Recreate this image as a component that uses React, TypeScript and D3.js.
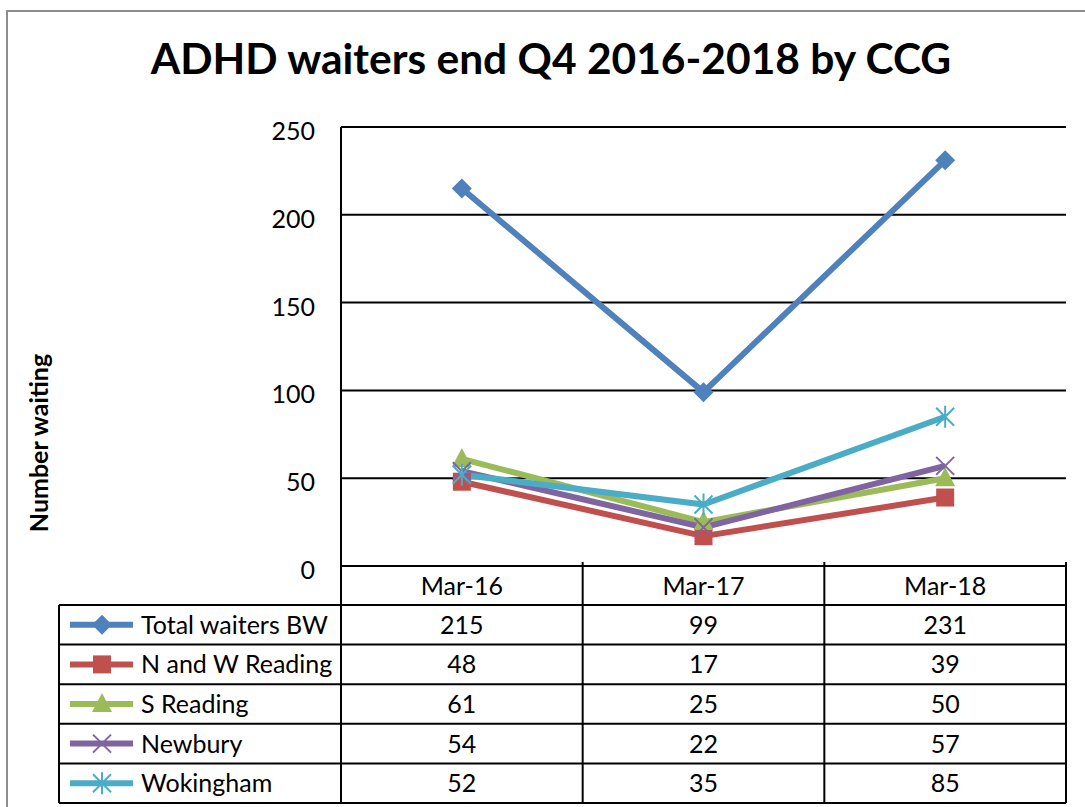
import React, { useEffect, useRef } from 'react'
import * as d3 from 'd3'

const categories = ['Mar-16', 'Mar-17', 'Mar-18']
const seriesNames = ['Total waiters BW', 'N and W Reading', 'S Reading', 'Newbury', 'Wokingham']
const totalBW = [215, 99, 231]
const nwReading = [48, 17, 39]
const sReading = [61, 25, 50]
const newbury = [54, 22, 57]
const wokingham = [52, 35, 85]
const yTicks = [0, 50, 100, 150, 200, 250]

const colors = ['#4F81BD', '#C0504D', '#9BBB59', '#8064A2', '#4BACC6']
const markers = ['diamond', 'square', 'triangle', 'x', 'star']

const width = 1085
const height = 807
const font = 'Lato, "Open Sans", sans-serif'

const App = () => {
  const ref = useRef<SVGSVGElement>(null)

  useEffect(() => {
    const svg = d3.select(ref.current)
    svg.selectAll('*').remove()

    const series = [totalBW, nwReading, sReading, newbury, wokingham].map((values, i) => ({
      name: seriesNames[i],
      color: colors[i],
      marker: markers[i],
      values
    }))

    const left = 341
    const right = 1066
    const top = 127
    const bottom = 566
    const tableLeft = 59
    const headerBottom = 605
    const tableBottom = 803

    const x = d3.scaleBand().domain(categories).range([left, right])
    const y = d3.scaleLinear().domain([0, 250]).range([bottom, top])
    const row = d3.scaleBand().domain(seriesNames).range([headerBottom, tableBottom])

    // outer chart border
    svg.append('path')
      .attr('d', `M7,${height} V11 H${width}`)
      .attr('fill', 'none')
      .attr('stroke', '#8c8c8c')
      .attr('stroke-width', 2)

    // title
    svg.append('text')
      .attr('x', 551)
      .attr('y', 74)
      .attr('text-anchor', 'middle')
      .attr('font-family', font)
      .attr('font-weight', 'bold')
      .attr('font-size', 42.5)
      .text('ADHD waiters end Q4 2016-2018 by CCG')

    // y axis title
    svg.append('text')
      .attr('transform', `translate(48, 443) rotate(-90)`)
      .attr('text-anchor', 'middle')
      .attr('font-family', font)
      .attr('font-weight', 'bold')
      .attr('font-size', 25)
      .text('Number waiting')

    // gridlines
    svg.append('g')
      .selectAll('line')
      .data(yTicks)
      .join('line')
        .attr('x1', left)
        .attr('x2', right)
        .attr('y1', d => y(d))
        .attr('y2', d => y(d))
        .attr('stroke', '#000')
        .attr('stroke-width', 2)

    // y axis
    const yAxis = svg.append('g')
      .attr('transform', `translate(${left},0)`)
      .call(d3.axisLeft(y).tickValues(yTicks).tickSize(0).tickPadding(26))
    yAxis.select('.domain').remove()
    yAxis.selectAll('text')
      .attr('font-family', font)
      .attr('font-size', 25)
      .attr('fill', '#000')
      .attr('dy', '0.5em')

    svg.append('line')
      .attr('x1', left).attr('x2', left)
      .attr('y1', top).attr('y2', tableBottom)
      .attr('stroke', '#000').attr('stroke-width', 2)

    // data table grid
    const grid = svg.append('g').attr('stroke', '#000').attr('stroke-width', 2)
    categories.forEach(c => {
      const xe = (x(c) as number) + x.bandwidth()
      grid.append('line').attr('x1', xe).attr('x2', xe).attr('y1', bottom - 4).attr('y2', tableBottom)
    })
    grid.append('line').attr('x1', tableLeft).attr('x2', tableLeft).attr('y1', headerBottom).attr('y2', tableBottom)
    seriesNames.forEach(n => {
      const yy = row(n) as number
      grid.append('line').attr('x1', tableLeft).attr('x2', right).attr('y1', yy).attr('y2', yy)
    })
    grid.append('line').attr('x1', tableLeft).attr('x2', right).attr('y1', tableBottom).attr('y2', tableBottom)

    // header labels
    svg.append('g')
      .selectAll('text')
      .data(categories)
      .join('text')
        .attr('x', d => (x(d) as number) + x.bandwidth() / 2)
        .attr('y', (bottom + headerBottom) / 2)
        .attr('dy', '0.36em')
        .attr('text-anchor', 'middle')
        .attr('font-family', font)
        .attr('font-size', 25)
        .text(d => d)

    // marker drawing
    const drawMarker = (g: any, type: string, color: string) => {
      if (type === 'diamond') {
        g.append('path').attr('d', 'M0,-10 L10,0 L0,10 L-10,0 Z').attr('fill', color)
      } else if (type === 'square') {
        g.append('rect').attr('x', -9).attr('y', -9).attr('width', 18).attr('height', 18).attr('fill', color)
      } else if (type === 'triangle') {
        g.append('path').attr('d', 'M0,-11 L10,8 L-10,8 Z').attr('fill', color)
      } else if (type === 'x') {
        g.append('path').attr('d', 'M-9,-9 L9,9 M9,-9 L-9,9').attr('stroke', color).attr('stroke-width', 2)
      } else if (type === 'star') {
        g.append('path').attr('d', 'M-9,-9 L9,9 M9,-9 L-9,9 M0,-11 L0,11').attr('stroke', color).attr('stroke-width', 2)
      }
    }

    // lines
    const line = d3.line<number>()
      .x((d, i) => (x(categories[i]) as number) + x.bandwidth() / 2)
      .y(d => y(d))

    series.forEach(s => {
      svg.append('path')
        .datum(s.values)
        .attr('d', line)
        .attr('fill', 'none')
        .attr('stroke', s.color)
        .attr('stroke-width', 6)
        .attr('stroke-linejoin', 'round')
    })
    series.forEach(s => {
      s.values.forEach((v, i) => {
        const g = svg.append('g')
          .attr('transform', `translate(${(x(categories[i]) as number) + x.bandwidth() / 2},${y(v)})`)
        drawMarker(g, s.marker, s.color)
      })
    })

    // table rows: legend keys, names, values
    series.forEach(s => {
      const cy = (row(s.name) as number) + row.bandwidth() / 2
      svg.append('line')
        .attr('x1', 70).attr('x2', 133)
        .attr('y1', cy).attr('y2', cy)
        .attr('stroke', s.color).attr('stroke-width', 6)
      drawMarker(svg.append('g').attr('transform', `translate(102,${cy})`), s.marker, s.color)
      svg.append('text')
        .attr('x', 141)
        .attr('y', cy)
        .attr('dy', '0.36em')
        .attr('font-family', font)
        .attr('font-size', 25)
        .text(s.name)
      svg.append('g')
        .selectAll('text')
        .data(s.values)
        .join('text')
          .attr('x', (d, i) => (x(categories[i]) as number) + x.bandwidth() / 2)
          .attr('y', cy)
          .attr('dy', '0.36em')
          .attr('text-anchor', 'middle')
          .attr('font-family', font)
          .attr('font-size', 25)
          .text(d => d)
    })
  }, [])

  return (
    <svg
      ref={ref}
      width={width}
      height={height}
      style={{ position: 'absolute', left: 0, top: 0, background: '#fff' }}
    />
  )
}

export default App
